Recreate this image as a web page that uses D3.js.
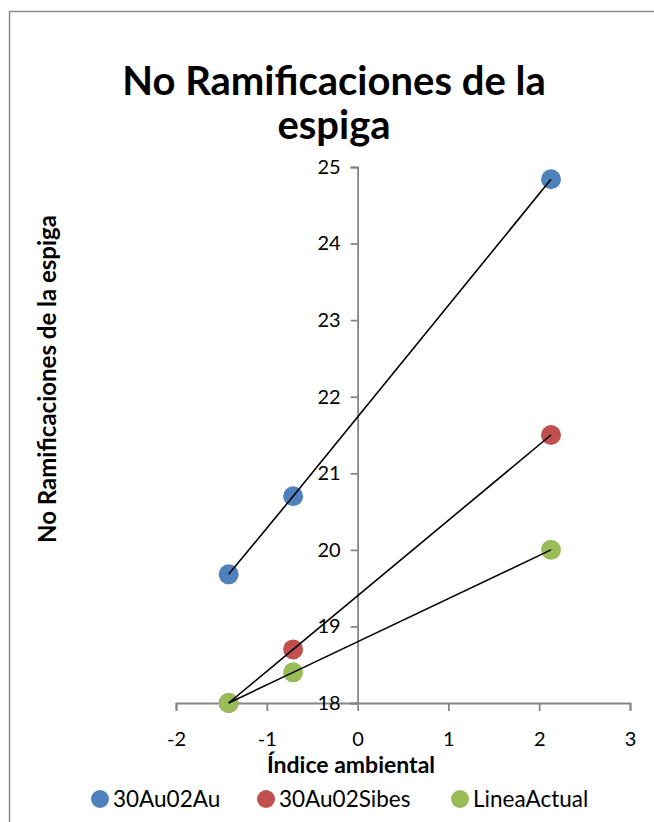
<!DOCTYPE html>
<html>
<head>
<meta charset="utf-8">
<script src="https://cdn.jsdelivr.net/npm/d3@7"></script>
<style>
  body { margin: 0; background: #fff; }
  svg { display: block; font-family: Lato, "Open Sans", sans-serif; }
</style>
</head>
<body>
<div id="chart"></div>
<script>
// Data
const indiceAmbiental = [-1.42, -0.71, 2.13];
const serie30Au02Au = [19.68, 20.70, 24.84];
const serie30Au02Sibes = [18.0, 18.70, 21.50];
const serieLineaActual = [18.0, 18.40, 20.0];
const seriesNames = ["30Au02Au", "30Au02Sibes", "LineaActual"];
const seriesColors = ["#4f81bd", "#c0504d", "#9bbb59"];
const xTicks = [-2, -1, 0, 1, 2, 3];
const yTicks = [18, 19, 20, 21, 22, 23, 24, 25];

const seriesValues = [serie30Au02Au, serie30Au02Sibes, serieLineaActual];
const series = seriesNames.map((name, i) => ({
    name: name,
    color: seriesColors[i],
    points: indiceAmbiental.map((x, j) => ({x: x, y: seriesValues[i][j]}))
}));

const W = 654, H = 822;
const svg = d3.select("#chart").append("svg")
    .attr("width", W)
    .attr("height", H);

// chart area border
svg.append("rect")
    .attr("x", 9.5).attr("y", 11.5)
    .attr("width", 700).attr("height", 900)
    .attr("fill", "none")
    .attr("stroke", "#8c8c8c")
    .attr("stroke-width", 1.5);

const xScale = d3.scaleLinear().domain([-2, 3]).range([176, 630]);
const yScale = d3.scaleLinear().domain([18, 25]).range([703, 167]);

// title
svg.append("text")
    .attr("x", 334).attr("y", 95)
    .attr("text-anchor", "middle")
    .attr("font-weight", "bold")
    .attr("font-size", 40)
    .text("No Ramificaciones de la");
svg.append("text")
    .attr("x", 334).attr("y", 139)
    .attr("text-anchor", "middle")
    .attr("font-weight", "bold")
    .attr("font-size", 40)
    .text("espiga");

// axes (hyphen minus like the original)
const fmt = d => String(d);
const axisColor = "#868686";
const xAxis = svg.append("g")
    .attr("transform", `translate(0,${yScale(18)})`)
    .call(d3.axisBottom(xScale).tickValues(xTicks).tickSize(8).tickPadding(21).tickFormat(fmt));
const yAxis = svg.append("g")
    .attr("transform", `translate(${xScale(0)},0)`)
    .call(d3.axisLeft(yScale).tickValues(yTicks).tickSize(7).tickPadding(10).tickFormat(fmt));

[xAxis, yAxis].forEach(g => {
    g.select(".domain").attr("stroke", axisColor).attr("stroke-width", 1.8);
    g.selectAll(".tick line").attr("stroke", axisColor).attr("stroke-width", 1.8);
    g.selectAll(".tick text").attr("fill", "#000").attr("font-size", 20).attr("font-family", "Lato, sans-serif");
});

// axis titles
svg.append("text")
    .attr("x", 351).attr("y", 773)
    .attr("text-anchor", "middle")
    .attr("font-weight", "bold")
    .attr("font-size", 23)
    .text("Índice ambiental");
svg.append("text")
    .attr("transform", `translate(56,379) rotate(-90)`)
    .attr("text-anchor", "middle")
    .attr("font-weight", "bold")
    .attr("font-size", 24)
    .text("No Ramificaciones de la espiga");

// markers
series.forEach(s => {
    svg.append("g").selectAll("circle")
        .data(s.points)
        .join("circle")
        .attr("cx", d => xScale(d.x))
        .attr("cy", d => yScale(d.y))
        .attr("r", 10)
        .attr("fill", s.color);
});

// lines through each series
const line = d3.line().x(d => xScale(d.x)).y(d => yScale(d.y));
series.forEach(s => {
    svg.append("path")
        .datum(s.points)
        .attr("d", line)
        .attr("fill", "none")
        .attr("stroke", "#000")
        .attr("stroke-width", 1.6);
});

// legend
const legendX = [100, 266, 460];
const legend = svg.append("g");
series.forEach((s, i) => {
    legend.append("circle")
        .attr("cx", legendX[i]).attr("cy", 799)
        .attr("r", 9)
        .attr("fill", s.color);
    legend.append("text")
        .attr("x", legendX[i] + 13).attr("y", 807)
        .attr("font-size", 22.5)
        .text(s.name);
});
</script>
</body>
</html>
